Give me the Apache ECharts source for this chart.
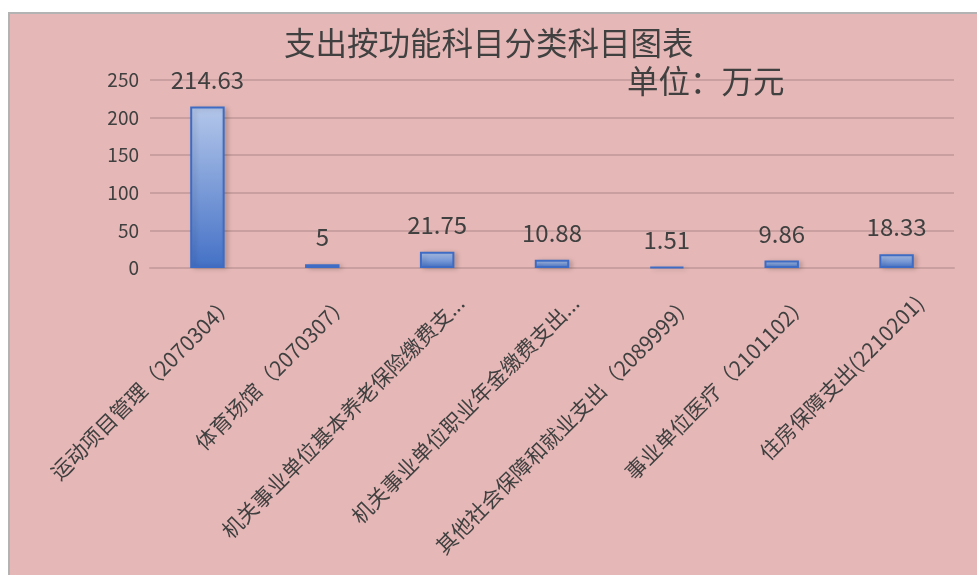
<!DOCTYPE html>
<html>
<head>
<meta charset="utf-8">
<script src="https://cdn.jsdelivr.net/npm/echarts@6/dist/echarts.min.js"></script>
<style>
  html, body { margin: 0; padding: 0; background: #ffffff; overflow: hidden; }
  #graph {
    position: absolute; left: 8px; top: 12px;
    width: 975px; height: 570px;
    background: #e5b8b7;
    border-left: 2px solid #b3b3b3;
    border-top: 2px solid #b3b3b3;
  }
</style>
</head>
<body>
<div id="graph"></div>
<script>
// categories as shown on the axis (long ones cut off like in the original)
var categories = [
  '运动项目管理（2070304）',
  '体育场馆（2070307）',
  '机关事业单位基本养老保险缴费支...',
  '机关事业单位职业年金缴费支出...',
  '其他社会保障和就业支出（2089999）',
  '事业单位医疗（2101102）',
  '住房保障支出(2210201)'
];
var values = [214.63, 5, 21.75, 10.88, 1.51, 9.86, 18.33];
var yTicks = [0, 50, 100, 150, 200, 250];

var textColor = '#404040';
var fontFam = '"Noto Sans CJK SC", "Noto Sans", sans-serif';

var dom = document.getElementById("graph");
var myChart = echarts.init(dom);
var option = null;

option = {
  backgroundColor: 'transparent',
  textStyle: { fontFamily: fontFam },
  title: [{
      text: '支出按功能科目分类科目图表',
      left: 269,
      top: 8,
      textStyle: { fontSize: 31.5, fontWeight: 'normal', color: textColor, fontFamily: fontFam }
    },
    {
      text: '单位：万元',
      left: 612,
      top: 46,
      textStyle: { fontSize: 31.5, fontWeight: 'normal', color: textColor, fontFamily: fontFam }
    }
  ],
  grid: {
    left: 140,
    right: 31,
    top: 66,
    bottom: 316
  },
  xAxis: [{
    type: 'category',
    data: categories,
    axisTick: { show: false },
    axisLine: { lineStyle: { color: '#c9a09f', width: 2 } },
    axisLabel: {
      interval: 0,
      rotate: 45,
      margin: 8,
      fontSize: 21,
      color: textColor,
      verticalAlign: 'top',
      lineHeight: 66,
      fontFamily: fontFam
    }
  }],
  yAxis: [{
    type: 'value',
    min: yTicks[0],
    max: yTicks[yTicks.length - 1],
    interval: 50,
    axisLine: { show: false },
    axisTick: { show: false },
    splitLine: { lineStyle: { color: '#c9a09f', width: 2 } },
    axisLabel: {
      fontSize: 19,
      color: textColor,
      margin: 11,
      fontFamily: fontFam
    }
  }],
  series: [{
    name: '支出',
    type: 'bar',
    barWidth: '30%',
    data: values,
    itemStyle: {
      color: new echarts.graphic.LinearGradient(0, 0, 0, 1, [
        { offset: 0, color: '#b4c7ea' },
        { offset: 1, color: '#4471c6' }
      ]),
      borderColor: '#3e6cc4',
      borderWidth: 2,
      shadowColor: 'rgba(0,0,0,0.18)',
      shadowBlur: 5,
      shadowOffsetX: 3,
      shadowOffsetY: 1
    },
    label: {
      show: true,
      position: 'top',
      distance: 15,
      fontSize: 24,
      color: textColor,
      fontFamily: fontFam
    }
  }]
};

if (option && typeof option === "object") {
  myChart.setOption(option, true);
}
</script>
</body>
</html>
